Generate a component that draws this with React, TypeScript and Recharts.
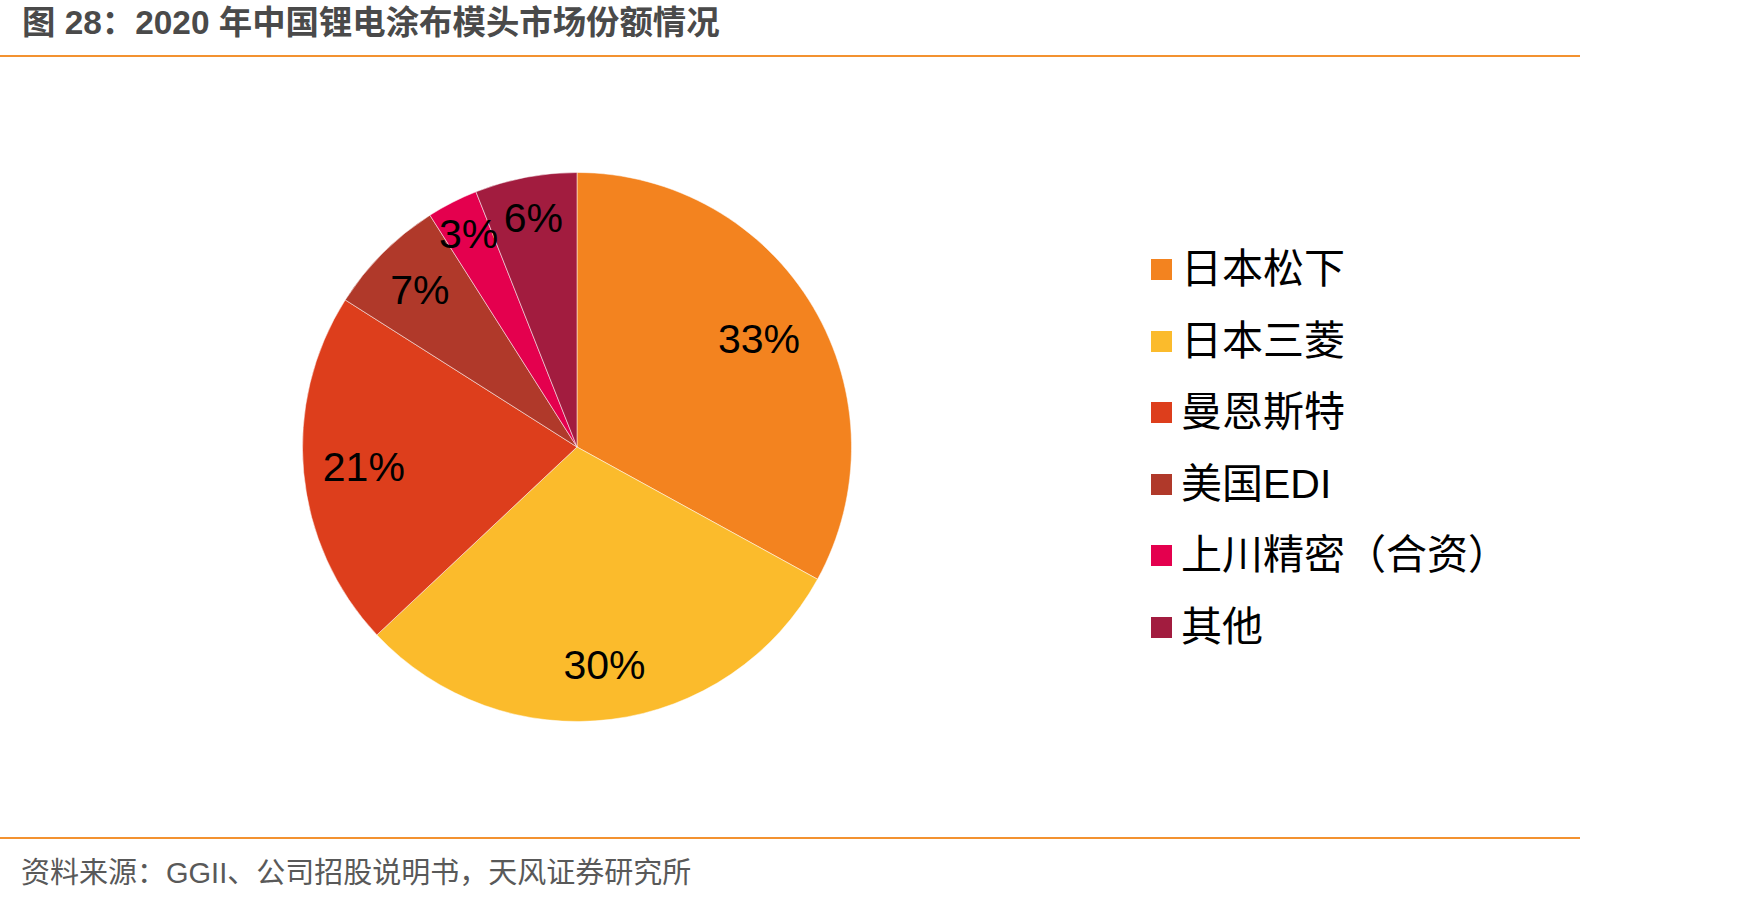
import React from "react";
import { PieChart, Pie, Cell, Legend } from "recharts";

const companies = [
  "日本松下",
  "日本三菱",
  "曼恩斯特",
  "美国EDI",
  "上川精密（合资）",
  "其他",
];
const shares = [33, 30, 21, 7, 3, 6];
const sliceColors = [
  "#F3831F",
  "#FBBB2C",
  "#DD3E1C",
  "#B0392A",
  "#E4004E",
  "#A21C3F",
];

const title = "图 28：2020 年中国锂电涂布模头市场份额情况";
const source = "资料来源：GGII、公司招股说明书，天风证券研究所";

// label distance from centre, as a share of the radius
const LABEL_RADIUS = [0.77, 0.8, 0.78, 0.81, 0.87, 0.85];

const chartData = companies.map((name, i) => ({ name, value: shares[i] }));

const RADIAN = Math.PI / 180;

const renderLabel = (props: any) => {
  const { cx, cy, midAngle, outerRadius, value, index } = props;
  const r = outerRadius * LABEL_RADIUS[index];
  const x = cx + r * Math.cos(-midAngle * RADIAN);
  const y = cy + r * Math.sin(-midAngle * RADIAN);
  return (
    <text
      x={x}
      y={y}
      fill="#000"
      textAnchor="middle"
      dominantBaseline="central"
      style={{ fontFamily: "'Liberation Sans', Arial, sans-serif", fontSize: 41 }}
    >
      {`${value}%`}
    </text>
  );
};

const renderLegend = () => (
  <div>
    {chartData.map((item, i) => (
      <div
        key={item.name}
        style={{ display: "flex", alignItems: "center", height: 71.5 }}
      >
        <span
          style={{
            width: 21,
            height: 21,
            background: sliceColors[i],
            marginRight: 9,
            flex: "none",
          }}
        />
        <span
          style={{
            fontFamily: "'Liberation Sans', 'Noto Sans CJK SC', sans-serif",
            fontSize: 41,
            color: "#000",
            whiteSpace: "nowrap",
            lineHeight: "71.5px",
          }}
        >
          {item.name}
        </span>
      </div>
    ))}
  </div>
);

export default function App() {
  return (
    <div
      style={{
        position: "absolute",
        left: 0,
        top: 0,
        width: 1747,
        height: 901,
        background: "#fff",
        overflow: "hidden",
      }}
    >
      <div
        style={{
          position: "absolute",
          left: 22,
          top: 0,
          height: 45,
          lineHeight: "45px",
          fontFamily: "'Liberation Sans', 'Noto Sans CJK SC', sans-serif",
          fontWeight: "bold",
          fontSize: 33.4,
          color: "#4a4a4a",
          whiteSpace: "nowrap",
        }}
      >
        {title}
      </div>
      <div
        style={{
          position: "absolute",
          left: 0,
          top: 55,
          width: 1580,
          height: 2,
          background: "#F39230",
        }}
      />
      <div style={{ position: "absolute", left: 0, top: 0 }}>
        <PieChart width={1747} height={901}>
          <Pie
            data={chartData}
            dataKey="value"
            nameKey="name"
            cx={572}
            cy={442}
            outerRadius={274.5}
            startAngle={90}
            endAngle={-270}
            stroke="#ffffff"
            strokeWidth={0.5}
            label={renderLabel}
            labelLine={false}
            isAnimationActive={false}
          >
            {chartData.map((entry, index) => (
              <Cell key={`cell-${index}`} fill={sliceColors[index]} />
            ))}
          </Pie>
          <Legend
            content={renderLegend}
            layout="vertical"
            wrapperStyle={{ position: "absolute", left: 1151, top: 234, width: 500 }}
          />
        </PieChart>
      </div>
      <div
        style={{
          position: "absolute",
          left: 0,
          top: 837,
          width: 1580,
          height: 2,
          background: "#F39230",
        }}
      />
      <div
        style={{
          position: "absolute",
          left: 21,
          top: 853,
          height: 40,
          lineHeight: "40px",
          fontFamily: "'Liberation Sans', 'Noto Sans CJK SC', sans-serif",
          fontSize: 29,
          color: "#595959",
          whiteSpace: "nowrap",
        }}
      >
        {source}
      </div>
    </div>
  );
}
